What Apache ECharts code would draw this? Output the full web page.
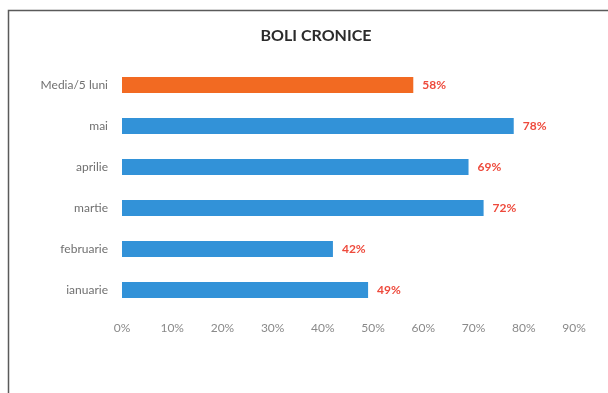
<!DOCTYPE html>
<html>
<head>
<meta charset="utf-8">
<script src="https://cdn.jsdelivr.net/npm/echarts@6/dist/echarts.min.js"></script>
<style>
  html, body { margin: 0; padding: 0; background: #ffffff; }
  #chart { width: 608px; height: 393px; }
</style>
</head>
<body>
<div id="chart"></div>
<script>
// Categories listed bottom-to-top (category axis on y starts at the bottom)
const categories = ['ianuarie', 'februarie', 'martie', 'aprilie', 'mai', 'Media/5 luni'];
const values = [49, 42, 72, 69, 78, 58];
const barColors = ['#3292d8', '#3292d8', '#3292d8', '#3292d8', '#3292d8', '#f26a22'];
const titleText = 'BOLI CRONICE';

const chart = echarts.init(document.getElementById('chart'), null, { renderer: 'canvas' });

const fontFamily = 'Lato, "Open Sans", sans-serif';

chart.setOption({
  animation: false,
  backgroundColor: '#ffffff',
  title: {
    text: titleText,
    left: 311,
    textAlign: 'center',
    top: 23,
    textStyle: { fontFamily: fontFamily, fontSize: 16, fontWeight: 'bold', color: '#2b2b2b' }
  },
  graphic: [
    {
      type: 'polyline',
      shape: { points: [[8.5, 393], [8.5, 10.5], [608, 10.5]] },
      style: { stroke: '#5a5a5a', lineWidth: 1.5, fill: null },
      silent: true
    }
  ],
  grid: { left: 122, right: 34, top: 64.5, bottom: 82.5, containLabel: false },
  xAxis: {
    type: 'value',
    min: 0,
    max: 90,
    interval: 10,
    axisLine: { show: false },
    axisTick: { show: false },
    splitLine: { show: false },
    axisLabel: {
      formatter: '{value}%',
      color: '#8a8a8a',
      fontFamily: fontFamily,
      fontSize: 12,
      margin: 12
    }
  },
  yAxis: {
    type: 'category',
    data: categories,
    axisLine: { show: false },
    axisTick: { show: false },
    axisLabel: {
      color: '#707070',
      fontFamily: fontFamily,
      fontSize: 12,
      margin: 14
    }
  },
  series: [{
    type: 'bar',
    data: values.map((v, i) => ({ value: v, itemStyle: { color: barColors[i] } })),
    barWidth: 16,
    label: {
      show: true,
      position: 'right',
      distance: 9,
      formatter: '{c}%',
      color: '#ee4a3c',
      fontFamily: fontFamily,
      fontSize: 12,
      fontWeight: 'bold'
    }
  }]
});
</script>
</body>
</html>
